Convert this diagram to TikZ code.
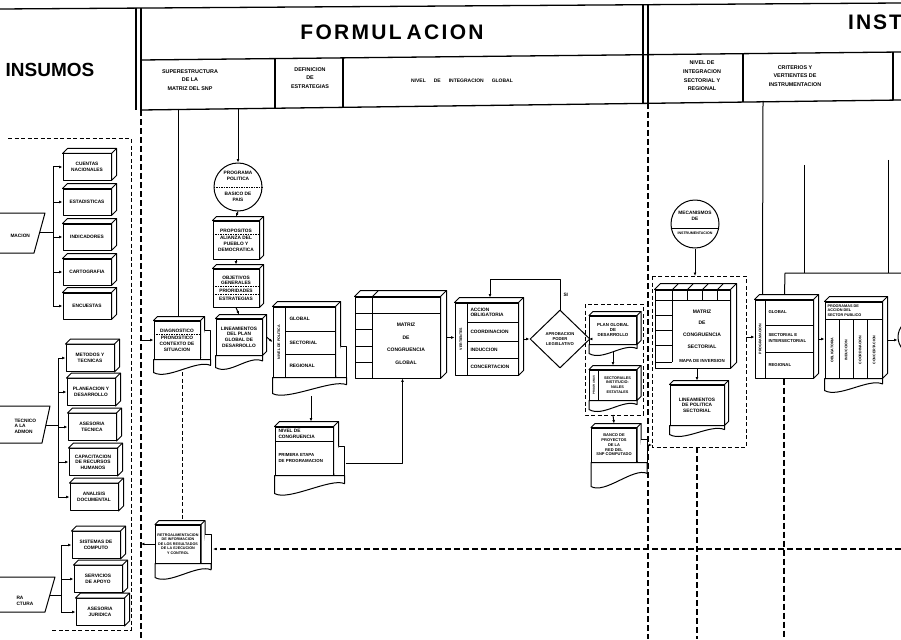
\documentclass[tikz,border=0pt]{standalone}
\usepackage{fontspec}
\setmainfont{Liberation Sans}
\usetikzlibrary{calc,arrows.meta,shapes.geometric}
% 3D depth faces of a box node
\newcommand\cubo[2][4]{%
  \draw[bx,fill=white] (#2.north west) -- ++(#1,-#1) -- ($(#2.north east)+(#1,-#1)$) -- ($(#2.south east)+(#1,-#1)$) -- (#2.south east) -- (#2.north east) -- cycle;
  \draw[bx] (#2.north east) -- ++(#1,-#1);}
% wavy document bottom
\newcommand\onda[3][0]{%
  \draw[bx,fill=white] (#2.south west) -- ++(0,#3) .. controls +(14,8) and +(-14,-6) .. ($(#2.south east)+(#1,#3*0.45)$) -- ($(#2.south east)+(#1,0)$) -- cycle;}
% stacked sheets at the right
\newcommand\hojas[3][4]{%
  \draw[bx,fill=white] ([xshift=#1pt,yshift=-#3pt]#2.north east) -- ++(6,0) -- ([xshift=#1pt+6pt,yshift=-5pt]#2.south east) -- ([yshift=-5pt]#2.south east);}
\begin{document}
\begin{tikzpicture}[x=1pt,y=-1pt,
  bx/.style={line width=1pt,line join=round},
  box/.style={draw,bx,fill=white,inner sep=0.4pt,align=center,font=\fontsize{4.8}{5.6}\selectfont\bfseries},
  tt/.style={inner sep=0.3pt,align=center,font=\fontsize{4.8}{5.6}\selectfont\bfseries},
  tl/.style={tt,align=left},
  vtx/.style={inner sep=0.2pt,rotate=90,font=\fontsize{3.6}{4}\selectfont\bfseries},
  hd/.style={inner sep=0pt,align=center,font=\fontsize{5.4}{8.6}\selectfont\bfseries},
  frame/.style={line width=1.3pt},
  dsh/.style={line width=1.1pt,dash pattern=on 6pt off 3pt},
  dsh2/.style={line width=1pt,dash pattern=on 4pt off 2.5pt},
  ar/.style={-{Latex[length=3.4pt,width=2.8pt]}},
  sep/.style={line width=0.5pt,dash pattern=on 1.5pt off 1pt},
  circ/.style={draw,bx,circle,fill=white,inner sep=0pt}]
\useasboundingbox (0,0) rectangle (901,639);
\fill[white] (0,0) rectangle (901,639);
\clip (0,0) rectangle (901,639);

%% ---------------- header ----------------
\draw[frame] (0,9) -- (901,3);
\draw[frame] (141,60) -- (901,52);
\draw[frame] (141,110) -- (901,100);
\draw[frame] (136,8) -- (136,110);
\draw[frame] (141,8) -- (141,110);
\draw[frame] (275,58.6) -- (275,108.2);
\draw[frame] (343,57.9) -- (343,107.3);
\draw[frame] (643,4.7) -- (643,103.4);
\draw[frame] (648,4.7) -- (648,103.3);
\draw[frame] (743,53.7) -- (743,102.1);
\draw[frame] (893,52.1) -- (893,100.1);

\node[inner sep=0pt,font=\fontsize{19}{19}\selectfont\bfseries] (hIns) at (50,70) {INSUMOS};
\node[inner sep=0pt,font=\fontsize{21}{21}\selectfont\bfseries] (hFor) at (392,32)
  {F\kern2.3pt O\kern2.3pt R\kern2.3pt M\kern2.3pt U\kern2.3pt L\kern5pt A\kern2.3pt C\kern2.3pt I\kern2.3pt O\kern2.3pt N};
\node[inner sep=0pt,anchor=west,font=\fontsize{21}{21}\selectfont\bfseries] (hInst) at (848,22)
  {I\kern2pt N\kern2pt S\kern2pt T};
\node[hd] (s1) at (190,80) {SUPERESTRUCTURA\\DE LA\\MATRIZ DEL SNP};
\node[hd] (s2) at (310,78) {DEFINICION\\DE\\ESTRATEGIAS};
\node[hd,font=\fontsize{5}{6}\selectfont\bfseries] (s3) at (462,81) {NIVEL\hspace{8pt}DE\hspace{8pt}INTEGRACION\hspace{8pt}GLOBAL};
\node[hd] (s4) at (702,76) {NIVEL DE\\INTEGRACION\\SECTORIAL Y\\REGIONAL};
\node[hd] (s5) at (795,76) {CRITERIOS Y\\VERTIENTES DE\\INSTRUMENTACION};

%% ---------------- column lines ----------------
\draw[dsh] (141,110) -- (141,639);
\draw[dsh] (648,103) -- (648,639);

%% ---------------- INSUMOS ----------------
\draw[dsh2] (8,139) -- (131,139) -- (131,630) -- (50,630);

% group 1
\draw[bx,fill=white] (-10,213) -- (45,213) -- (34,253) -- (-10,253);
\node[tl,anchor=west] (p1) at (10,236) {MACION};
\coordinate (p1r) at (40,232);
\coordinate (j1) at (53,232);
\node[box,minimum width=48,minimum height=26] (c1) at (87,167) {CUENTAS\\NACIONALES}; \cubo[5]{c1}
\node[box,minimum width=48,minimum height=26] (c2) at (87,202) {ESTADISTICAS}; \cubo[5]{c2}
\node[box,minimum width=48,minimum height=26] (c3) at (87,237) {INDICADORES}; \cubo[5]{c3}
\node[box,minimum width=48,minimum height=26] (c4) at (87,272) {CARTOGRAFIA}; \cubo[5]{c4}
\node[box,minimum width=48,minimum height=26] (c5) at (87,306) {ENCUESTAS}; \cubo[5]{c5}
\draw[bx] (p1r) -- (j1);
\draw[bx] (j1 |- c1.west) -- (j1 |- c5.west);
\foreach \n in {c1,c2,c3,c4,c5} \draw[bx,ar] (j1 |- \n.west) -- (\n.west);

% group 2
\draw[bx,fill=white] (-10,406) -- (50,406) -- (42,443) -- (-10,443);
\node[tl,anchor=west] (p2) at (14,426) {TECNICO\\A LA\\ADMON};
\coordinate (p2r) at (46,425);
\coordinate (j2) at (58,425);
\node[box,minimum width=48,minimum height=27] (d1) at (90,358) {METODOS Y\\TECNICAS}; \cubo[5]{d1}
\node[box,minimum width=48,minimum height=27] (d2) at (91,392) {PLANEACION Y\\DESARROLLO}; \cubo[5]{d2}
\node[box,minimum width=48,minimum height=27] (d3) at (92,427) {ASESORIA\\TECNICA}; \cubo[5]{d3}
\node[box,minimum width=48,minimum height=27] (d4) at (93,462) {CAPACITACION\\DE RECURSOS\\HUMANOS}; \cubo[5]{d4}
\node[box,minimum width=48,minimum height=27] (d5) at (94,497) {ANALISIS\\DOCUMENTAL}; \cubo[5]{d5}
\draw[bx] (p2r) -- (j2);
\draw[bx] (j2 |- d1.west) -- (j2 |- d5.west);
\foreach \n in {d1,d2,d3,d4,d5} \draw[bx,ar] (j2 |- \n.west) -- (\n.west);

% group 3
\draw[bx,fill=white] (-10,577) -- (55,577) -- (45,612) -- (-10,612);
\node[tl,anchor=west] (p3) at (16,601) {RA\\CTURA};
\coordinate (p3r) at (50,595);
\coordinate (j3) at (61,595);
\node[box,minimum width=48,minimum height=27] (e1) at (96,545) {SISTEMAS DE\\COMPUTO}; \cubo[5]{e1}
\node[box,minimum width=48,minimum height=27] (e2) at (98,579) {SERVICIOS\\DE APOYO}; \cubo[5]{e2}
\node[box,minimum width=48,minimum height=27] (e3) at (100,612) {ASESORIA\\JURIDICA}; \cubo[5]{e3}
\draw[bx] (p3r) -- (j3);
\draw[bx] (j3 |- e1.west) -- (j3 |- e3.west);
\foreach \n in {e1,e2,e3} \draw[bx,ar] (j3 |- \n.west) -- (\n.west);

%% ---------------- FORMULACION ----------------
\node[circ,minimum size=48] (cir1) at (238,187) {};
\node[tt] (cir1a) at (238,176) {PROGRAMA\\POLITICA};
\node[tt] (cir1b) at (238,197) {BASICO DE\\PAIS};
\draw[sep] (cir1.west) -- (cir1.east);
\coordinate (t2) at (238,108);
\draw[bx,ar] (t2) -- (cir1.north);

\node[box,minimum width=46,minimum height=38] (b1) at (236,240) {PROPOSITOS\\[2pt]ALIANZA DEL\\PUEBLO Y\\DEMOCRATICA}; \cubo{b1}
\draw[sep] ([yshift=-13.6pt]b1.north west) -- ([yshift=-13.6pt]b1.north east);
\node[box,minimum width=46,minimum height=38] (b2) at (236,288) {OBJETIVOS\\GENERALES\\[2pt]PRIORIDADES\\[2pt]ESTRATEGIAS}; \cubo{b2}
\draw[sep] ([yshift=-18.2pt]b2.north west) -- ([yshift=-18.2pt]b2.north east);
\draw[sep] ([yshift=-25.8pt]b2.north west) -- ([yshift=-25.8pt]b2.north east);
\node[box,minimum width=46,minimum height=36] (b3) at (239,337) {LINEAMIENTOS\\DEL PLAN\\GLOBAL DE\\DESARROLLO}; \cubo{b3}
\onda{b3}{12}
\draw[bx,ar] (cir1.south) -- ($(b1.north)+(0,-4)$);
\draw[bx,ar] (b1.south) -- ($(b2.north)+(0,-4)$);
\draw[bx,ar] (b2.south) -- ($(b3.north)+(0,-4)$);

% diagnostico
\node[box,minimum width=46,minimum height=38] (b0) at (177,340) {DIAGNOSTICO\\[2pt]PRONOSTICO\\CONTEXTO DE\\SITUACION}; \cubo{b0}
\hojas{b0}{10}
\onda[10]{b0}{13}
\draw[sep] ([yshift=-13.6pt]b0.north west) -- ([yshift=-13.6pt]b0.north east);
\coordinate (t1) at (178,109);
\draw[bx] (t1) -- ($(b0.north -| t1)+(0,-4)$);
\coordinate (l1) at (141,340);
\draw[bx,ar] (l1) -- (b0.west);

% nivel de politica
\node[draw,bx,fill=white,minimum width=62,minimum height=70] (np) at (304,342) {}; \cubo[5]{np}
\hojas[5]{np}{40}
\onda[11]{np}{16}
\draw[bx] (285,307) -- (285,377);
\draw[bx] (285,331) -- (335,331);
\draw[bx] (285,354) -- (335,354);
\node[vtx] (npl) at (279,342) {NIVEL DE POLITICA};
\node[tl,anchor=west] (np1) at (289,319) {GLOBAL};
\node[tl,anchor=west] (np2) at (289,342.5) {SECTORIAL};
\node[tl,anchor=west] (np3) at (289,366) {REGIONAL};
\draw[bx,ar] ([xshift=4pt]b3.east) -- (np.west);
\coordinate (npb) at (311,396);

% nivel de congruencia
\node[draw,bx,fill=white,minimum width=58,minimum height=48] (nc) at (304,451) {}; \cubo[5]{nc}
\hojas[5]{nc}{20}
\onda[11]{nc}{18}
\draw[bx] (275,441) -- (333,441);
\node[tl,anchor=west] (nc1) at (278,434) {NIVEL DE\\CONGRUENCIA};
\node[tl,anchor=west,font=\fontsize{4.4}{5.4}\selectfont\bfseries] (nc2) at (278,458) {PRIMERA ETAPA\\DE PROGRAMACION};
\draw[bx,ar] (npb) -- ($(nc.north)+(7,-5)$);

% matriz global
\node[draw,bx,fill=white,minimum width=85,minimum height=81] (mg) at (397.5,337.5) {}; \cubo[6]{mg}
\draw[bx] (355,313) -- (440,313);
\draw[bx] (372,297) -- (372,378);
\draw[bx] (372,297) -- (378,291);
\draw[bx] (355,329) -- (372,329);
\draw[bx] (355,346) -- (372,346);
\draw[bx] (355,362) -- (372,362);
\node[tt,font=\fontsize{5}{12.5}\selectfont\bfseries] (mgt) at (406,344) {MATRIZ\\DE\\CONGRUENCIA\\GLOBAL};
\draw[bx,ar] ($(nc.south east)+(12,-12)$) -| ($(mg.south)+(5,0)$);

% vertientes
\node[draw,bx,fill=white,minimum width=63,minimum height=72] (vt) at (486.5,339) {}; \cubo[5]{vt}
\draw[bx] (467,303) -- (467,375);
\draw[bx] (467,322) -- (518,322);
\draw[bx] (467,341) -- (518,341);
\draw[bx] (467,358) -- (518,358);
\node[vtx] (vtl) at (461,339) {VERTIENTES};
\node[tl,anchor=west] (vt1) at (470,312.5) {ACCION\\OBLIGATORIA};
\node[tl,anchor=west] (vt2) at (470,331.5) {COORDINACION};
\node[tl,anchor=west] (vt3) at (470,349.5) {INDUCCION};
\node[tl,anchor=west] (vt4) at (470,366.5) {CONCERTACION};
\draw[bx,ar] ([xshift=6pt]mg.east) -- (mg.east -| vt.west);

% diamond
\node[draw,bx,diamond,fill=white,minimum width=60,minimum height=58,inner sep=0pt,align=center,
      font=\fontsize{4.2}{5}\selectfont\bfseries] (dm) at (560,339) {APROBACION\\PODER\\LEGISLATIVO};
\draw[bx,ar] ([xshift=5pt]vt.east) -- (dm.west);
\coordinate (lp) at (490,279);
\draw[bx,ar] (dm.north) |- (lp) -- ($(vt.north -| lp)+(0,-5)$);
\node[tt,anchor=west] (si) at (563,295) {SI};

% plan global group
\draw[dsh2] (585,304) rectangle (643,415);
\node[box,minimum width=47,minimum height=28,font=\fontsize{4.4}{5.2}\selectfont\bfseries] (pg) at (613,330) {PLAN GLOBAL\\DE\\DESARROLLO}; \cubo{pg}
\onda{pg}{9}
\draw[bx,ar] (dm.east) -- (dm.east -| pg.west);
\node[draw,bx,fill=white,minimum width=47,minimum height=30] (ps) at (613,385) {}; \cubo{ps}
\onda{ps}{9}
\draw[bx] (598,370) -- (598,400);
\node[vtx,font=\fontsize{2.8}{3}\selectfont\bfseries] (psl) at (594,385) {PROGRAMAS};
\node[tt,font=\fontsize{3.8}{4.7}\selectfont\bfseries] (pst) at (617.5,385) {SECTORIALES\\INSTITUCIO-\\NALES\\ESTATALES};
\coordinate (pgb) at (613,352);
\draw[bx,ar] (pgb) -- ($(ps.north)+(0,-4)$);

% banco de proyectos
\coordinate (g2b) at (613,415);
\node[box,minimum width=45,minimum height=34,font=\fontsize{4}{4.8}\selectfont\bfseries] (bp) at (614,445) {BANCO DE\\PROYECTOS\\DE LA\\RED DEL\\SNP COMPUTADO}; \cubo{bp}
\hojas{bp}{12}
\onda[10]{bp}{24}
\draw[bx,ar] (g2b) -- ($(bp.north)+(0,-4)$);
\coordinate (g3bl) at (652,447);
\draw[bx,ar] ([xshift=10pt]bp.east) -- (g3bl |- bp.east);

% retroalimentacion
\node[box,minimum width=45,minimum height=38,font=\fontsize{3.7}{4.6}\selectfont\bfseries] (fb) at (178,544) {RETROALIMENTACION\\DE INFORMACION\\DE LOS RESULTADOS\\DE LA EJECUCION\\Y CONTROL}; \cubo{fb}
\hojas{fb}{10}
\onda[10]{fb}{14}
\coordinate (b0b) at (182,372);
\draw[dsh2] (b0b) -- ($(fb.north)+(4,-4)$);
\draw[bx,ar] (fb.west) -- (fb.west -| l1);
\coordinate (r1) at (901,549);
\draw[dsh,ar] (r1) -- ($(fb.east |- r1)+(12,0)$);

%% ---------------- sectorial ----------------
\draw[dsh2] (652,276) rectangle (746,447);
\node[circ,minimum size=48] (cir2) at (695,224) {};
\node[tt] (cir2a) at (695,216) {MECANISMOS\\DE};
\node[tt,font=\fontsize{3.6}{4}\selectfont\bfseries] (cir2b) at (695,233) {INSTRUMENTACION};
\draw[bx] (671.3,228) -- (718.7,228);
\coordinate (g3t) at (695,276);
\draw[bx,ar] (cir2.south) -- (g3t);

\node[draw,bx,fill=white,minimum width=75,minimum height=78] (ms) at (692.5,329) {}; \cubo[6]{ms}
\draw[bx] (655,300) -- (730,300);
\foreach \xx in {672,687,702,717} {\draw[bx] (\xx,290) -- (\xx,300); \draw[bx] (\xx,290) -- (\xx+6,284);}
\draw[bx] (672,300) -- (672,362);
\foreach \yy in {315,330,345,362} \draw[bx] (655,\yy) -- (672,\yy);
\node[tt,font=\fontsize{5}{11.7}\selectfont\bfseries] (mst) at (702,329) {MATRIZ\\DE\\CONGRUENCIA\\SECTORIAL};
\node[tt,font=\fontsize{4.4}{5}\selectfont\bfseries] (msm) at (702,361) {MAPA DE INVERSION};

\node[box,minimum width=54,minimum height=40] (ls) at (697,405) {LINEAMIENTOS\\DE POLITICA\\SECTORIAL}; \cubo{ls}
\onda{ls}{9}
\draw[bx,ar] (ms.south -| ls.north) -- ($(ls.north)+(0,-4)$);

%% ---------------- instrumentacion ----------------
\coordinate (g3r) at (746,337);
\node[draw,bx,fill=white,minimum width=58,minimum height=78] (pr) at (784,339) {}; \cubo[5]{pr}
\draw[bx] (765,300) -- (765,378);
\draw[bx] (765,325) -- (813,325);
\draw[bx] (765,352) -- (813,352);
\node[vtx] (prl) at (760,339) {PROGRAMACION};
\node[tl,anchor=west,font=\fontsize{4.3}{5.2}\selectfont\bfseries] (pr1) at (768,312) {GLOBAL};
\node[tl,anchor=west,font=\fontsize{4.3}{5.2}\selectfont\bfseries] (pr2) at (768,338) {SECTORIAL E\\INTERSECTORIAL};
\node[tl,anchor=west,font=\fontsize{4.3}{5.2}\selectfont\bfseries] (pr3) at (768,365) {REGIONAL};
\draw[bx,ar] (g3r) -- (pr.west |- g3r);

\coordinate (t3) at (763,101);
\draw[bx] (t3) -- ([xshift=8pt,yshift=5pt]pr.north west);
\coordinate (h1) at (785,273);
\coordinate (h2) at (901,273);
\draw[bx] (h2) -- (h1) -- ([xshift=30pt,yshift=5pt]pr.north west);
\coordinate (v1a) at (804,165); \coordinate (v1b) at (804,273);
\coordinate (v2a) at (888,160); \coordinate (v2b) at (888,273);
\draw[line width=0.5pt] (v1a) -- (v1b);
\draw[line width=0.5pt] (v2a) -- (v2b);

\node[draw,bx,fill=white,minimum width=57,minimum height=76] (pa) at (853.5,340) {}; \cubo[5]{pa}
\onda{pa}{12}
\draw[bx] (825,319) -- (882,319);
\foreach \xx in {839,853,867} \draw[bx] (\xx,319) -- (\xx,378);
\node[tl,anchor=west,font=\fontsize{3.8}{4.4}\selectfont\bfseries] (pat) at (827,310.5) {PROGRAMAS DE\\ACCION DEL\\SECTOR PUBLICO};
\node[vtx] (pa1) at (832,350) {OBLIGATORIA};
\node[vtx] (pa2) at (846,350) {INDUCCION};
\node[vtx] (pa3) at (860,350) {COORDINACION};
\node[vtx] (pa4) at (874,350) {CONCERTACION};
\draw[bx,ar] ([xshift=5pt]pr.east) -- (pr.east -| pa.west);
\node[circ,minimum size=36] (pc) at (916,337) {};
\draw[bx,ar] ([xshift=5pt]pa.east) -- (pa.east -| pc.west);

%% ---------------- dashed returns ----------------
\coordinate (g3b) at (697,447);
\coordinate (bt1) at (697,639);
\draw[dsh] (g3b) -- (bt1);
\draw[dsh] (pr.south) -- (pr.south |- bt1);
\end{tikzpicture}
\end{document}
